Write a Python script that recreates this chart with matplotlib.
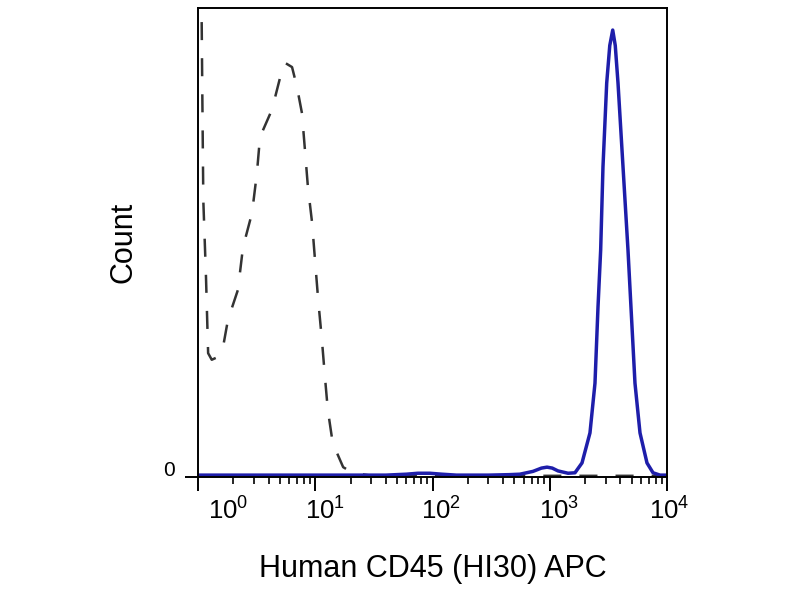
import matplotlib
matplotlib.use('Agg')
import matplotlib.pyplot as plt
import matplotlib.transforms as mtransforms
from matplotlib.ticker import LogLocator, NullFormatter

plt.rcParams['font.family'] = ['Liberation Sans', 'DejaVu Sans']
plt.rcParams['mathtext.fontset'] = 'custom'
plt.rcParams['mathtext.rm'] = 'Liberation Sans'
plt.rcParams['lines.scale_dashes'] = False

# isotype control histogram (dashed)
ctrl_x = [1.075, 1.09, 1.11, 1.17, 1.22, 1.31, 1.45, 1.63, 1.80, 2.19, 2.42, 2.89,
          3.18, 3.38, 4.27, 5.21, 5.53, 6.34, 6.98, 7.7, 8.17, 8.66, 9.4, 10.0,
          10.6, 11.4, 12.1, 12.8, 14.1, 17.3, 21, 30, 100, 1000, 10000]
ctrl_y = [97, 80, 59, 42.6, 26.4, 25, 25.5, 27.5, 33.5, 39.9, 49, 56.3,
          64.8, 72.5, 78.3, 86.8, 88.3, 87.4, 83.2, 77.6, 69.7, 61.8, 54.2, 45.6,
          37.7, 29.2, 21.3, 14.3, 7.2, 2.1, 0.85, 0.3, 0.25, 0.25, 0.25]

# CD45 APC stained histogram (blue)
cd45_x = [1.0, 10, 40, 60, 75, 95, 120, 160, 300, 450, 557, 720, 850, 948, 1050,
          1175, 1432, 1641, 1884, 2203, 2431, 2579, 2718, 2844, 3060, 3250, 3444,
          3620, 3821, 4216, 4648, 4929, 5332, 5885, 6750, 7600, 8720, 10000]
cd45_y = [0.4, 0.4, 0.4, 0.6, 0.8, 0.8, 0.6, 0.4, 0.4, 0.5, 0.6, 1.2, 1.9, 2.1, 1.9,
          1.3, 0.8, 0.9, 3.0, 9.4, 20, 36.2, 48.4, 66.1, 84, 92, 95.3,
          92, 84, 66.1, 48.4, 36.2, 20, 9.4, 3.0, 0.9, 0.4, 0.4]

decades = [1, 10, 100, 1000, 10000]
decade_labels = [r'$\mathregular{10^{0}}$', r'$\mathregular{10^{1}}$',
                 r'$\mathregular{10^{2}}$', r'$\mathregular{10^{3}}$',
                 r'$\mathregular{10^{4}}$']
label_shift_px = [30, 10, 9, 9, 2]

fig = plt.figure(figsize=(8, 6), dpi=100)
ax = fig.add_axes([198 / 800, 123 / 600, 469 / 800, 469 / 600])

ax.plot(ctrl_x, ctrl_y, color='#333333', lw=1.8, dashes=(13, 13))
ax.plot(cd45_x, cd45_y, color='#1e1eaa', lw=2.5)

ax.set_xscale('log')
ax.set_xlim(1, 1e4)
ax.set_ylim(0, 100)

ax.set_xticks(decades)
ax.set_xticklabels(decade_labels, fontsize=18.5)
ax.xaxis.set_minor_locator(LogLocator(base=10, subs=range(2, 10)))
ax.xaxis.set_minor_formatter(NullFormatter())
ax.tick_params(axis='x', which='major', length=10, width=1.4, direction='out', pad=5)
ax.tick_params(axis='x', which='minor', length=5, width=1.2, direction='out')

ax.set_yticks([0])
ax.set_yticklabels(['0'], fontsize=15)
ax.tick_params(axis='y', length=9.5, width=1.4, pad=7)

# labels sit a bit right of their ticks in the original
for lab, dx in zip(ax.get_xticklabels(), label_shift_px):
    lab.set_transform(lab.get_transform() +
                      mtransforms.ScaledTranslation(dx / 100, 0, fig.dpi_scale_trans))
for lab in ax.get_yticklabels():
    lab.set_transform(lab.get_transform() +
                      mtransforms.ScaledTranslation(0, 8 / 100, fig.dpi_scale_trans))

for s in ax.spines.values():
    s.set_linewidth(1.4)

ax.set_ylabel('Count', fontsize=22)
ax.yaxis.set_label_coords(-0.127, 0.5)
ax.set_xlabel('Human CD45 (HI30) APC', fontsize=22)
ax.xaxis.set_label_coords(0.5, -0.165)

fig.savefig('out.png', dpi=100)
